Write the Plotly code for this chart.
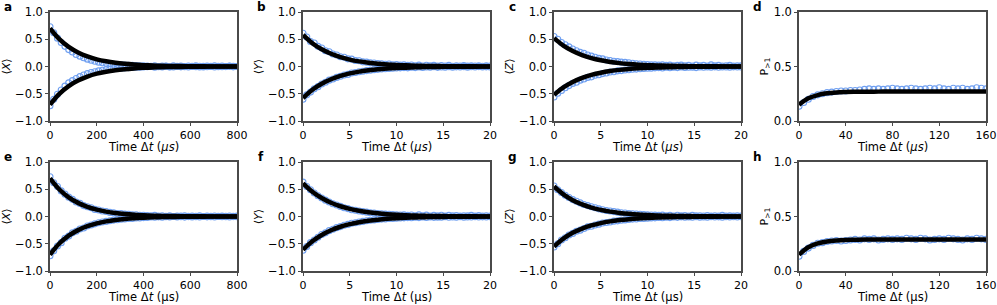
import numpy as np
import plotly.graph_objects as go
from plotly.subplots import make_subplots

# ---------------- data ----------------
# panel a / e : <X>, 0..800 us
a_up = [0.73, 0.62, 0.52, 0.44, 0.37, 0.31, 0.265, 0.22, 0.19, 0.16, 0.135, 0.115, 0.095, 0.08, 0.07, 0.06,
        0.05, 0.042, 0.035, 0.03, 0.027, 0.022, 0.02, 0.018, 0.015, 0.012,
        0.01, 0.0, 0.015, -0.005, 0.01, 0.005, -0.01, 0.012, 0.0, 0.008, -0.005, 0.01, 0.0, 0.015, 0.005,
        -0.008, 0.01, 0.002, 0.012, -0.003, 0.008, 0.0, 0.01, 0.005, 0.0]
a_lo = [-0.72, -0.60, -0.51, -0.43, -0.36, -0.30, -0.26, -0.22, -0.185, -0.155, -0.13, -0.11, -0.095, -0.08,
        -0.068, -0.057, -0.048, -0.04, -0.034, -0.03, -0.025, -0.02, -0.018, -0.015, -0.012, -0.01,
        -0.005, 0.005, -0.012, 0.0, -0.008, 0.006, -0.004, -0.01, 0.003, -0.006, 0.0, -0.01, 0.004, -0.003,
        -0.008, 0.002, -0.005, 0.0, -0.01, 0.005, -0.004, -0.002, 0.003, -0.006, 0.0]
a_fit = [0.700, 0.502, 0.359, 0.258, 0.185, 0.132, 0.095, 0.068, 0.049, 0.035, 0.025, 0.018, 0.013, 0.009,
         0.007, 0.005, 0.003, 0.002, 0.002, 0.001, 0.001]

e_up = [0.73, 0.62, 0.55, 0.47, 0.41, 0.355, 0.315, 0.265, 0.24, 0.20, 0.18, 0.16, 0.13, 0.12, 0.10, 0.092,
        0.075, 0.07, 0.056, 0.055, 0.043, 0.04, 0.03, 0.032, 0.024, 0.022,
        0.018, 0.012, 0.02, 0.008, 0.015, 0.005, 0.012, 0.0, 0.01, 0.006, 0.012, 0.002, 0.009, 0.004, 0.011,
        0.0, 0.008, 0.005, 0.01, 0.002, 0.007, 0.004, 0.009, 0.003, 0.006]
e_lo = [-0.72, -0.63, -0.54, -0.48, -0.40, -0.36, -0.30, -0.27, -0.23, -0.21, -0.175, -0.155, -0.135, -0.115,
        -0.10, -0.09, -0.077, -0.066, -0.06, -0.05, -0.045, -0.037, -0.035, -0.028, -0.027, -0.02,
        -0.018, -0.01, -0.015, -0.006, -0.012, -0.004, -0.01, 0.0, -0.008, -0.005, -0.011, -0.002, -0.007,
        -0.004, -0.01, 0.0, -0.006, -0.003, -0.009, -0.001, -0.005, -0.004, -0.008, -0.002, -0.005]
e_fit = [0.700, 0.496, 0.352, 0.250, 0.177, 0.126, 0.089, 0.063, 0.045, 0.032, 0.023, 0.016, 0.011, 0.008,
         0.006, 0.004, 0.003, 0.002, 0.001, 0.001, 0.001]

# panel b / f : <Y>, 0..20 us
b_up = [0.61, 0.54, 0.46, 0.43, 0.37, 0.34, 0.29, 0.27, 0.23, 0.21, 0.18, 0.17, 0.14, 0.135, 0.11, 0.105,
        0.085, 0.08, 0.07, 0.065, 0.055, 0.05, 0.04, 0.045, 0.03, 0.035, 0.025,
        0.03, 0.02, 0.028, 0.015, 0.025, 0.01, 0.022, 0.012, 0.02, 0.008, 0.018, 0.01, 0.02, 0.005, 0.015,
        0.01, 0.018, 0.006, 0.012, 0.01, 0.015, 0.004, 0.012, 0.008]
b_lo = [-0.60, -0.52, -0.47, -0.41, -0.37, -0.32, -0.29, -0.25, -0.23, -0.20, -0.18, -0.155, -0.145, -0.12,
        -0.11, -0.095, -0.088, -0.075, -0.068, -0.058, -0.052, -0.045, -0.042, -0.035, -0.033, -0.027, -0.025,
        -0.02, -0.025, -0.012, -0.02, -0.008, -0.018, -0.01, -0.015, -0.005, -0.016, -0.008, -0.012, -0.004,
        -0.014, -0.006, -0.01, -0.003, -0.012, -0.005, -0.009, -0.002, -0.01, -0.006, -0.008]
b_fit = [0.580, 0.428, 0.316, 0.234, 0.173, 0.127, 0.094, 0.070, 0.051, 0.038, 0.028, 0.021, 0.015, 0.011,
         0.008, 0.006, 0.005, 0.003, 0.003, 0.002, 0.001]

f_up = [0.63, 0.55, 0.49, 0.43, 0.38, 0.34, 0.30, 0.265, 0.235, 0.21, 0.185, 0.16, 0.145, 0.125, 0.115, 0.1,
        0.09, 0.08, 0.07, 0.063, 0.055, 0.05, 0.044, 0.04, 0.035, 0.03, 0.028,
        0.03, 0.02, 0.028, 0.015, 0.03, 0.012, 0.025, 0.01, 0.02, 0.015, 0.022, 0.008, 0.02, 0.012, 0.018,
        0.006, 0.015, 0.012, 0.02, 0.008, 0.016, 0.01, 0.014, 0.01]
f_lo = [-0.62, -0.55, -0.48, -0.43, -0.38, -0.33, -0.30, -0.26, -0.235, -0.205, -0.185, -0.16, -0.145, -0.125,
        -0.115, -0.10, -0.09, -0.078, -0.07, -0.062, -0.056, -0.048, -0.045, -0.038, -0.036, -0.03, -0.028,
        -0.025, -0.02, -0.022, -0.012, -0.02, -0.01, -0.018, -0.008, -0.016, -0.012, -0.015, -0.005, -0.014,
        -0.01, -0.012, -0.004, -0.012, -0.008, -0.01, -0.003, -0.01, -0.006, -0.008, -0.004]
f_fit = [0.610, 0.455, 0.339, 0.252, 0.188, 0.140, 0.104, 0.078, 0.058, 0.043, 0.032, 0.024, 0.018, 0.013,
         0.010, 0.007, 0.005, 0.004, 0.003, 0.002, 0.002]

# panel c / g : <Z>, 0..20 us
c_up = [0.55, 0.50, 0.44, 0.40, 0.36, 0.32, 0.29, 0.26, 0.24, 0.21, 0.19, 0.17, 0.15, 0.14, 0.12, 0.11,
        0.095, 0.09, 0.08, 0.075, 0.07, 0.06, 0.05, 0.045, 0.04, 0.035, 0.03,
        0.03, 0.025, 0.03, 0.02, 0.025, 0.015, 0.02, 0.025, 0.015, 0.02, 0.01, 0.025, 0.015, 0.02, 0.01,
        0.03, 0.015, 0.02, 0.01, 0.015, 0.02, 0.01, 0.015, 0.012]
c_lo = [-0.56, -0.49, -0.44, -0.39, -0.35, -0.31, -0.29, -0.25, -0.23, -0.20, -0.19, -0.16, -0.15, -0.13,
        -0.12, -0.10, -0.095, -0.08, -0.075, -0.065, -0.06, -0.05, -0.048, -0.04, -0.035, -0.03, -0.03,
        -0.025, -0.02, -0.028, -0.015, -0.022, -0.012, -0.02, -0.01, -0.018, -0.015, -0.012, -0.02, -0.008,
        -0.015, -0.01, -0.012, -0.006, -0.014, -0.01, -0.008, -0.012, -0.006, -0.01, -0.008]
c_fit = [0.520, 0.384, 0.284, 0.210, 0.155, 0.114, 0.084, 0.062, 0.046, 0.034, 0.025, 0.019, 0.014, 0.010,
         0.007, 0.005, 0.004, 0.003, 0.002, 0.002, 0.001]

g_up = [0.56, 0.49, 0.44, 0.39, 0.35, 0.31, 0.28, 0.25, 0.22, 0.20, 0.18, 0.16, 0.14, 0.125, 0.11, 0.10,
        0.09, 0.08, 0.07, 0.065, 0.055, 0.05, 0.045, 0.04, 0.035, 0.03, 0.028,
        0.025, 0.02, 0.025, 0.015, 0.02, 0.01, 0.022, 0.012, 0.018, 0.008, 0.02, 0.012, 0.015, 0.01, 0.018,
        0.006, 0.015, 0.01, 0.02, 0.008, 0.012, 0.01, 0.015, 0.008]
g_lo = [-0.56, -0.50, -0.43, -0.39, -0.34, -0.31, -0.27, -0.25, -0.22, -0.19, -0.18, -0.155, -0.14, -0.12,
        -0.11, -0.10, -0.085, -0.08, -0.068, -0.062, -0.055, -0.048, -0.045, -0.038, -0.035, -0.03, -0.026,
        -0.025, -0.018, -0.022, -0.012, -0.02, -0.01, -0.016, -0.006, -0.015, -0.01, -0.014, -0.004, -0.012,
        -0.008, -0.012, -0.003, -0.01, -0.006, -0.012, -0.004, -0.01, -0.005, -0.008, -0.004]
g_fit = [0.550, 0.406, 0.300, 0.222, 0.164, 0.121, 0.089, 0.066, 0.049, 0.036, 0.027, 0.020, 0.014, 0.011,
         0.008, 0.006, 0.004, 0.003, 0.002, 0.002, 0.001]

# panel d / h : P_{>1}, 0..160 us
d_data = [0.135, 0.17, 0.20, 0.225, 0.24, 0.25, 0.26, 0.265, 0.27, 0.275,
          0.275, 0.28, 0.28, 0.285, 0.29, 0.295, 0.29, 0.295, 0.29, 0.295,
          0.30, 0.295, 0.29, 0.295, 0.30, 0.295, 0.29, 0.295, 0.30, 0.295,
          0.305, 0.295, 0.29, 0.30, 0.295, 0.30, 0.29, 0.295, 0.305, 0.30, 0.295]
d_fit = [0.150, 0.208, 0.238, 0.254, 0.262, 0.266, 0.268, 0.269, 0.269, 0.270, 0.270, 0.270, 0.270, 0.270,
         0.270, 0.270, 0.270, 0.270, 0.270, 0.270, 0.270]

h_data = [0.135, 0.18, 0.21, 0.235, 0.255, 0.26, 0.27, 0.275, 0.28, 0.275,
          0.28, 0.285, 0.29, 0.285, 0.295, 0.29, 0.295, 0.285, 0.29, 0.295,
          0.29, 0.295, 0.29, 0.30, 0.295, 0.29, 0.30, 0.295, 0.285, 0.29,
          0.295, 0.29, 0.30, 0.295, 0.29, 0.285, 0.295, 0.29, 0.30, 0.295, 0.29]
h_fit = [0.150, 0.218, 0.253, 0.271, 0.280, 0.285, 0.287, 0.289, 0.289, 0.290, 0.290, 0.290, 0.290, 0.290,
         0.290, 0.290, 0.290, 0.290, 0.290, 0.290, 0.290]

x_max = [800, 20, 20, 160]
x_dtick = [200, 5, 5, 40]
y_titles = ["⟨<i>X</i>⟩", "⟨<i>Y</i>⟩", "⟨<i>Z</i>⟩", "P<sub>&gt;1</sub>"]
letters = [["a", "b", "c", "d"], ["e", "f", "g", "h"]]
x_titles = ["Time Δ<i>t</i> (<i>μs</i>)", "Time Δ<i>t</i> (μs)"]

panels = [
    [[a_up, a_lo], a_fit], [[b_up, b_lo], b_fit], [[c_up, c_lo], c_fit], [[d_data], d_fit],
    [[e_up, e_lo], e_fit], [[f_up, f_lo], f_fit], [[g_up, g_lo], g_fit], [[h_data], h_fit],
]

# ---------------- figure ----------------
W, H = 997, 305
col_px = [(50, 237), (303, 490), (554, 741), (799, 986)]
row_px = [(12, 121), (162, 271)]

DATA_C = "#6f9ff0"
AX_C = "#4a4a4a"
FONT = "DejaVu Sans"

fig = make_subplots(rows=2, cols=4)

for r in range(2):
    for c in range(4):
        datas, fit = panels[r * 4 + c]
        xm = x_max[c]
        for ys in datas:
            t = np.linspace(0, xm, len(ys))
            fig.add_trace(go.Scatter(x=t, y=ys, mode="markers",
                                     marker=dict(symbol="circle-open", size=6, color=DATA_C,
                                                 line=dict(width=1.1, color=DATA_C)),
                                     showlegend=False, cliponaxis=True), row=r + 1, col=c + 1)
        signs = [1, -1] if c < 3 else [1]
        tf = np.linspace(0, xm, len(fit))
        for s in signs:
            fig.add_trace(go.Scatter(x=tf, y=[s * v for v in fit], mode="lines",
                                     line=dict(color="black", width=4.5, shape="spline"),
                                     showlegend=False), row=r + 1, col=c + 1)

        x0, x1 = col_px[c]
        y0, y1 = row_px[r]
        fig.update_xaxes(domain=[x0 / W, x1 / W], range=[0, xm], dtick=x_dtick[c], tick0=0,
                         row=r + 1, col=c + 1)
        if c < 3:
            fig.update_yaxes(range=[-1, 1], tickvals=[-1, -0.5, 0, 0.5, 1], tickformat=".1f",
                             row=r + 1, col=c + 1)
        else:
            fig.update_yaxes(range=[0, 1], tickvals=[0, 0.5, 1], tickformat=".1f", row=r + 1, col=c + 1)
        fig.update_yaxes(domain=[1 - y1 / H, 1 - y0 / H],
                         title=dict(text=y_titles[c], standoff=3,
                                    font=dict(size=11, family=FONT, color="black")),
                         row=r + 1, col=c + 1)
        # x-axis title
        fig.add_annotation(x=(x0 + x1) / 2 / W, y=1 - (y1 + 26) / H, xref="paper", yref="paper",
                           text=x_titles[r], showarrow=False, xanchor="center", yanchor="middle",
                           font=dict(size=11.5, family=FONT, color="black"))
        # panel letter
        fig.add_annotation(x=(x0 - 42) / W, y=1 - (y0 - 5) / H, xref="paper", yref="paper",
                           text="<b>" + letters[r][c] + "</b>", showarrow=False,
                           xanchor="center", yanchor="middle",
                           font=dict(size=12, family=FONT, color="black"))

fig.update_xaxes(showline=True, linecolor=AX_C, linewidth=1.5, mirror=True, ticks="outside",
                 ticklen=3, tickwidth=1, tickcolor=AX_C, showgrid=False, zeroline=False,
                 automargin=False, ticklabeloverflow="allow",
                 tickfont=dict(size=11, family=FONT, color="black"))
fig.update_yaxes(showline=True, linecolor=AX_C, linewidth=1.5, mirror=True, ticks="outside",
                 ticklen=3, tickwidth=1, tickcolor=AX_C, showgrid=False, zeroline=False,
                 automargin=False, ticklabeloverflow="allow",
                 tickfont=dict(size=11.5, family=FONT, color="black"))

fig.update_layout(width=W, height=H, margin=dict(l=0, r=0, t=0, b=0),
                  plot_bgcolor="white", paper_bgcolor="white",
                  font=dict(family=FONT, color="black"))

fig.write_html("out.html", config={"displayModeBar": False},
               post_script="document.body.style.margin='0px';document.body.style.overflow='hidden';")
